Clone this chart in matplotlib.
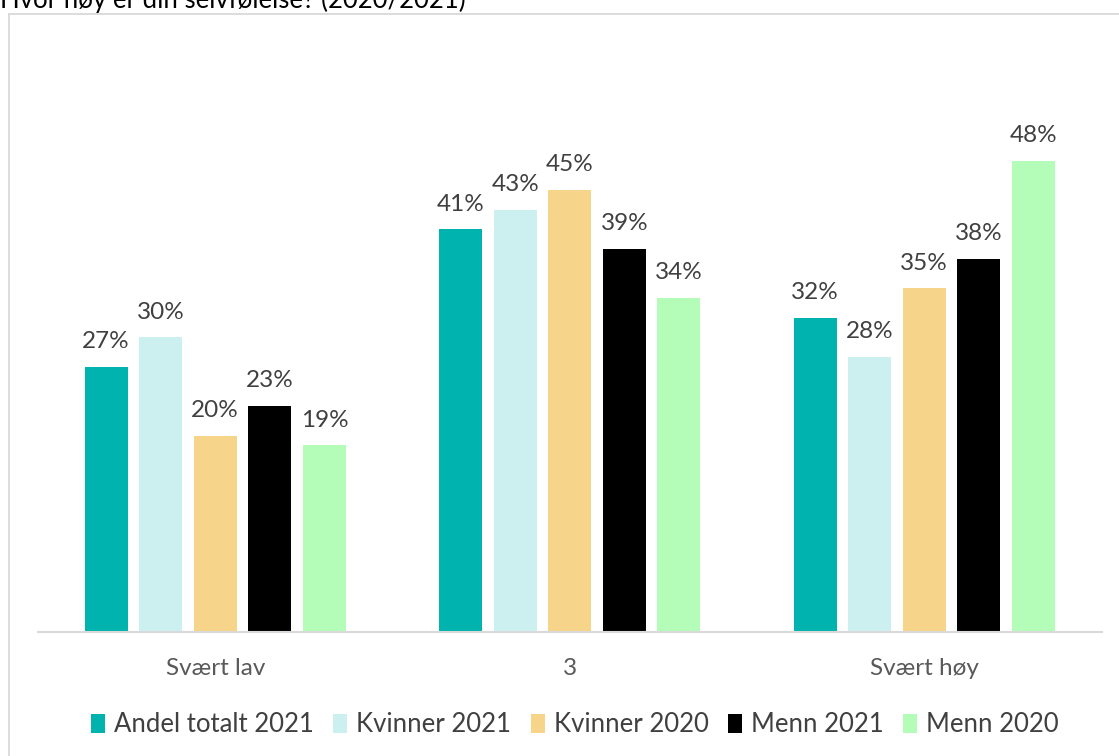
import matplotlib
matplotlib.use("Agg")
import matplotlib.pyplot as plt
import numpy as np
from matplotlib.lines import Line2D
from matplotlib.patches import Patch

categories = ["Svært lav", "3", "Svært høy"]
series = ["Andel totalt 2021", "Kvinner 2021", "Kvinner 2020", "Menn 2021", "Menn 2020"]
andel_totalt_2021 = [27, 41, 32]
kvinner_2021 = [30, 43, 28]
kvinner_2020 = [20, 45, 35]
menn_2021 = [23, 39, 38]
menn_2020 = [19, 34, 48]
values = [andel_totalt_2021, kvinner_2021, kvinner_2020, menn_2021, menn_2020]
colors = ["#00B3AE", "#CCEFEF", "#F6D48A", "#000000", "#B3FDB9"]

plt.rcParams["font.family"] = ["Lato", "DejaVu Sans"]

W, H = 1119, 756
fig = plt.figure(figsize=(W / 100, H / 100), dpi=100)

# chart frame (only left and top edges fall inside the canvas)
frame_c = "#D9D9D9"
fig.add_artist(Line2D([8.5 / W, 8.5 / W], [0, 1 - 14 / H], color=frame_c, lw=1.3))
fig.add_artist(Line2D([8.5 / W, 1], [1 - 14 / H, 1 - 14 / H], color=frame_c, lw=1.3))

fig.text(0.0, 1 - 8 / H, "Hvor høy er din selvfølelse? (2020/2021)",
         fontsize=18.5, color="#000000", ha="left", va="baseline")

ax = fig.add_axes([38 / W, (H - 632) / H, (1101.5 - 38) / W, 540 / H])
x = np.arange(len(categories))
width = 0.121
step = 0.154
for i, (name, vals, c) in enumerate(zip(series, values, colors)):
    xs = x + (i - 2) * step
    ax.bar(xs, vals, width=width, color=c, label=name, zorder=2)
    for xx, v in zip(xs, vals):
        ax.annotate(f"{v}%", (xx, v), xytext=(0, 13.5), textcoords="offset points",
                    ha="center", va="baseline", fontsize=17.5, color="#404040")

ax.set_xlim(-0.5, 2.5)
ax.set_ylim(0, 55)
ax.set_yticks([])
ax.set_xticks(x)
ax.set_xticklabels(categories, fontsize=17.5, color="#595959")
ax.tick_params(axis="x", length=0, pad=19)
for s in ["top", "right", "left"]:
    ax.spines[s].set_visible(False)
ax.spines["bottom"].set_color("#D9D9D9")
ax.spines["bottom"].set_linewidth(1.5)

handles = [Patch(facecolor=c, edgecolor="none") for c in colors]
fig.legend(handles, series, loc="center", bbox_to_anchor=(575 / W, 1 - 725 / H),
           ncol=5, frameon=False, fontsize=18.5, handlelength=0.55, handleheight=0.75,
           handletextpad=0.35, columnspacing=0.75, labelcolor="#404040")

fig.savefig("out.png", dpi=100)
